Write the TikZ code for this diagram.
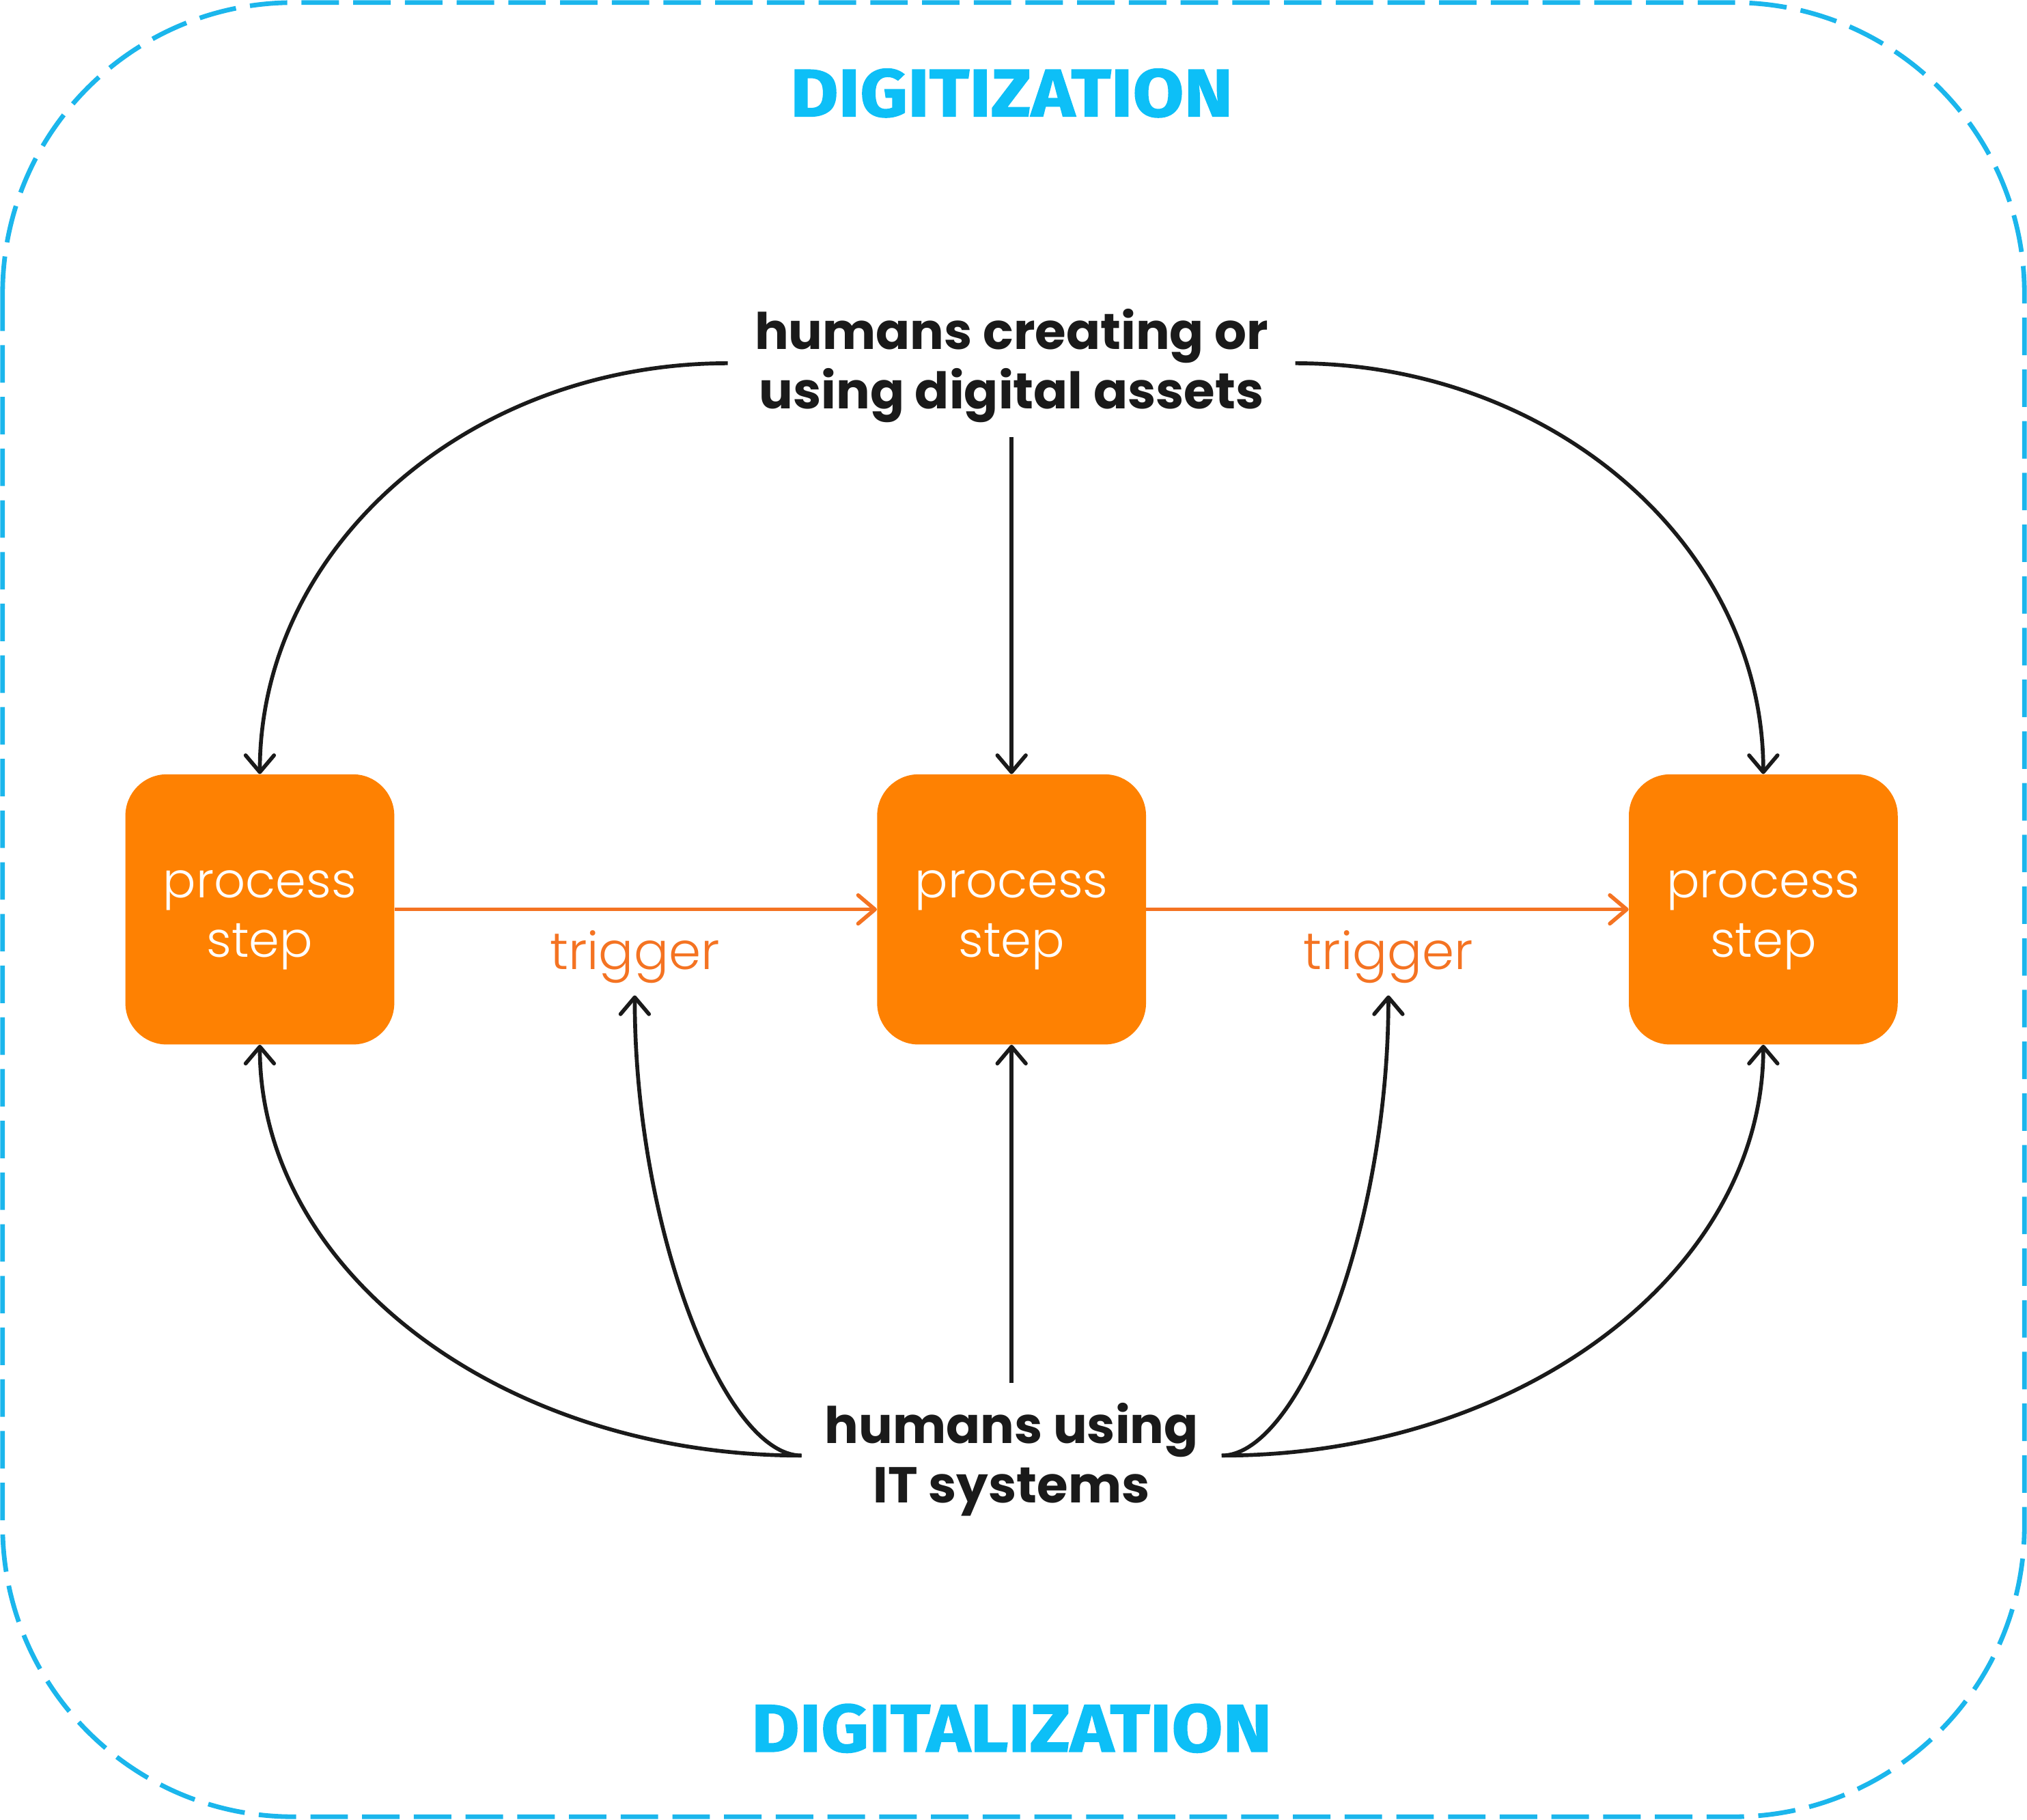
\documentclass[tikz,border=0pt]{standalone}
\usepackage{fontspec}
\setmainfont{Poppins}
\newfontfamily\lightfont{Poppins Light}
\newfontfamily\titlefont{Fira Sans}[FakeStretch=1.1,FakeBold=1.5]
\usetikzlibrary{arrows.meta}
\definecolor{boxorange}{HTML}{FE8102}
\definecolor{lineorange}{HTML}{F47322}
\definecolor{titlecyan}{HTML}{0DBFF7}
\definecolor{bordercyan}{HTML}{1BB6EC}
\definecolor{inkblack}{HTML}{1A1A1A}
\tikzset{
  stepbox/.style={fill=boxorange, rounded corners=32pt, minimum width=208pt, minimum height=209pt,
    text=white, align=center, inner sep=0pt, text height=80pt, text depth=6pt,
    font=\lightfont\fontsize{38}{46}\selectfont},
  humanlabel/.style={text=inkblack, align=center, inner sep=0pt, font=\bfseries\fontsize{39}{46}\selectfont},
  triglabel/.style={text=lineorange, inner sep=0pt, font=\lightfont\fontsize{40}{46}\selectfont},
  titlelabel/.style={text=titlecyan, inner sep=0pt, font=\titlefont\bfseries\fontsize{52}{60}\selectfont},
  blackarrow/.style={draw=inkblack, line width=3pt, -{Straight Barb[length=13pt,width=22pt,line cap=round,line join=round]}},
  orangearrow/.style={draw=lineorange, line width=3pt, -{Straight Barb[length=13pt,width=22pt,line cap=round,line join=round]}},
}
\begin{document}
\begin{tikzpicture}[x=1pt,y=-1pt]
\useasboundingbox (0,0) rectangle (1568,1407.4);
\draw[bordercyan, line width=3.6pt, dash pattern=on 29pt off 11pt, rounded corners=225pt]
  (2,2) rectangle (1566,1405.4);

\node[titlelabel] (digitization) at (782.5,72) {DIGITIZATION};
\node[titlelabel] (digitalization) at (782.5,1337) {DIGITALIZATION};

\node[stepbox] (s1) at (201,703.5) {process\\step};
\node[stepbox] (s2) at (782.5,703.5) {process\\step};
\node[stepbox] (s3) at (1364,703.5) {process\\step};

\node[humanlabel] (assets) at (782.5,283) {humans creating or\\using digital assets};
\node[humanlabel] (itsys) at (782.5,1129) {humans using\\IT systems};

\node[triglabel] (t1) at (491,740) {trigger};
\node[triglabel] (t2) at (1074,740) {trigger};

\coordinate (aL) at (563,281);
\coordinate (aR) at (1002,281);
\coordinate (aB) at (782.5,338);
\coordinate (iL) at (620,1126);
\coordinate (iR) at (945,1126);
\coordinate (iT) at (782.5,1070);
\coordinate (t1b) at (491,770);
\coordinate (t2b) at (1074,770);

\draw[orangearrow] (s1.east) -- (s2.west);
\draw[orangearrow] (s2.east) -- (s3.west);

\draw[blackarrow] (aL) .. controls (363,281) and (201,423) .. (s1.north);
\draw[blackarrow] (aR) .. controls (1202,281) and (1364,423) .. (s3.north);
\draw[blackarrow] (aB) -- (s2.north);

\draw[blackarrow] (iL) .. controls (389,1126) and (201,984) .. (s1.south);
\draw[blackarrow] (iR) .. controls (1176,1126) and (1364,984) .. (s3.south);
\draw[blackarrow] (iT) -- (s2.south);
\draw[blackarrow] (iL) .. controls (560,1126) and (491,950) .. (t1b);
\draw[blackarrow] (iR) .. controls (1005,1126) and (1074,950) .. (t2b);
\end{tikzpicture}
\end{document}
